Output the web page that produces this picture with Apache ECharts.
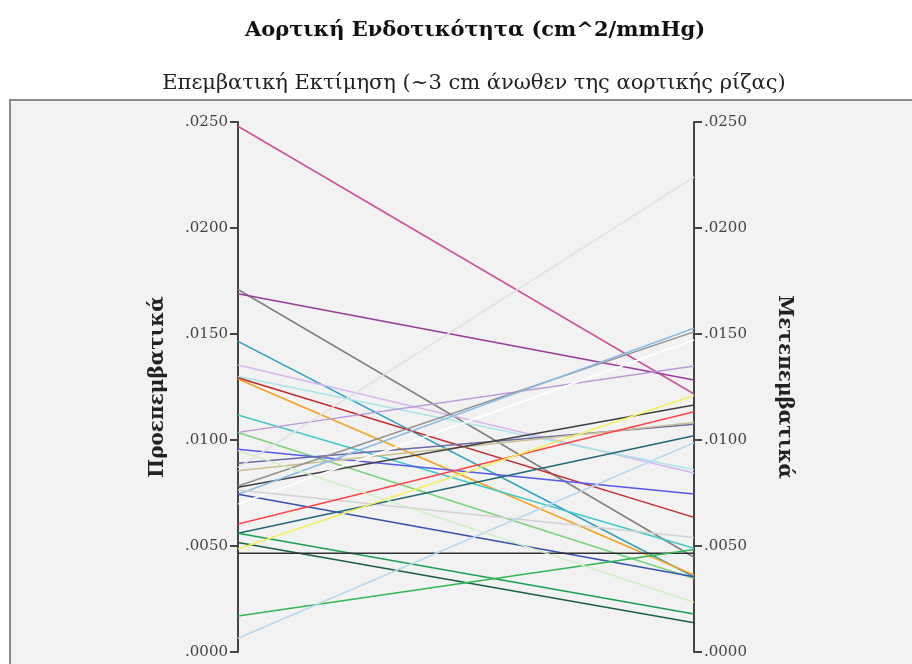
<!doctype html>
<html>
<head>
<meta charset="utf-8">
<title>Αορτική Ενδοτικότητα</title>
<script src="https://cdn.jsdelivr.net/npm/echarts@6/dist/echarts.min.js"></script>
<style>
  html, body { margin: 0; padding: 0; background: #fff; }
  #chart { width: 912px; height: 664px; }
</style>
</head>
<body>
<div id="chart"></div>
<script>
// two time points, one line per patient
var stages = ["Προεπεμβατικά", "Μετεπεμβατικά"];
var preValues = [0.0248, 0.0171, 0.0169, 0.01465, 0.01354, 0.0130, 0.01294, 0.01288, 0.01118, 0.01036,
  0.01035, 0.00956, 0.0089, 0.00855, 0.00783, 0.00777, 0.00744, 0.00744, 0.00698, 0.00764,
  0.00604, 0.0056, 0.0056, 0.00516, 0.00486, 0.00466, 0.0017, 0.00065, 0.0095, 0.0087];
var postValues = [0.01217, 0.00447, 0.01283, 0.00355, 0.00844, 0.0086, 0.00635, 0.00363, 0.00489, 0.01349,
  0.00347, 0.00745, 0.01074, 0.01082, 0.0151, 0.01165, 0.01527, 0.00355, 0.01472, 0.0054,
  0.01133, 0.0102, 0.00179, 0.00138, 0.0121, 0.00466, 0.00484, 0.00987, 0.00234, 0.0224];
var lineColors = ["#d0509a", "#808080", "#9a3a9a", "#2aa0c0", "#d8b4f0", "#a8e6e6", "#c02828", "#f5a020", "#40c8c8", "#b898d8",
  "#78d478", "#5858f0", "#6a6aa8", "#c8c090", "#909090", "#404040", "#88bce8", "#3850b0", "#ffffff", "#d2d2d2",
  "#ff4545", "#206878", "#18a050", "#1a6040", "#f2f060", "#303030", "#30b850", "#b8d8f0", "#cdf0c0", "#e2e2e2"];
var tickValues = [0, 0.005, 0.01, 0.015, 0.02, 0.025];

var chart = echarts.init(document.getElementById("chart"));

function fmt(v) {
  return v.toFixed(4).replace(/^0/, "");
}

var series = [];
for (var i = 0; i < preValues.length; i++) {
  series.push({
    type: "line",
    data: [preValues[i], postValues[i]],
    symbol: "none",
    silent: true,
    lineStyle: { color: lineColors[i], width: 1.5 }
  });
}

var yAxisBase = {
  type: "value",
  min: tickValues[0],
  max: tickValues[tickValues.length - 1],
  interval: 0.005,
  nameLocation: "middle",
  nameTextStyle: { fontFamily: "DejaVu Serif", fontSize: 20, fontWeight: "bold", color: "#222" },
  axisLine: { show: true, lineStyle: { color: "#444", width: 2 } },
  axisTick: { show: true, length: 8, lineStyle: { color: "#444", width: 2 } },
  axisLabel: { formatter: fmt, fontFamily: "DejaVu Serif", fontSize: 15, color: "#444", margin: 10 },
  splitLine: { show: false }
};

chart.setOption({
  animation: false,
  backgroundColor: "#ffffff",
  title: [{
    text: "Αορτική Ενδοτικότητα (cm^2/mmHg)",
    left: 470,
    textAlign: "center",
    top: 15,
    textStyle: { fontFamily: "DejaVu Serif", fontSize: 21, fontWeight: "bold", color: "#111" }
  }, {
    text: "Επεμβατική Εκτίμηση (~3 cm άνωθεν της αορτικής ρίζας)",
    left: 469,
    textAlign: "center",
    top: 68,
    textStyle: { fontFamily: "DejaVu Serif", fontSize: 21, fontWeight: "normal", color: "#222" }
  }],
  graphic: [{
    type: "rect",
    z: -10,
    shape: { x: 10, y: 100, width: 920, height: 600 },
    style: { fill: "#f2f2f2", stroke: "#8a8a8a", lineWidth: 2 }
  }],
  grid: { left: 238, right: 218, top: 122, bottom: 12 },
  xAxis: {
    type: "category",
    data: stages,
    boundaryGap: false,
    show: false
  },
  yAxis: [
    Object.assign({}, yAxisBase, { position: "left", name: stages[0], nameRotate: 90, nameGap: 70 }),
    Object.assign({}, yAxisBase, { position: "right", name: stages[1], nameRotate: -90, nameGap: 80 })
  ],
  series: series
});
</script>
</body>
</html>
